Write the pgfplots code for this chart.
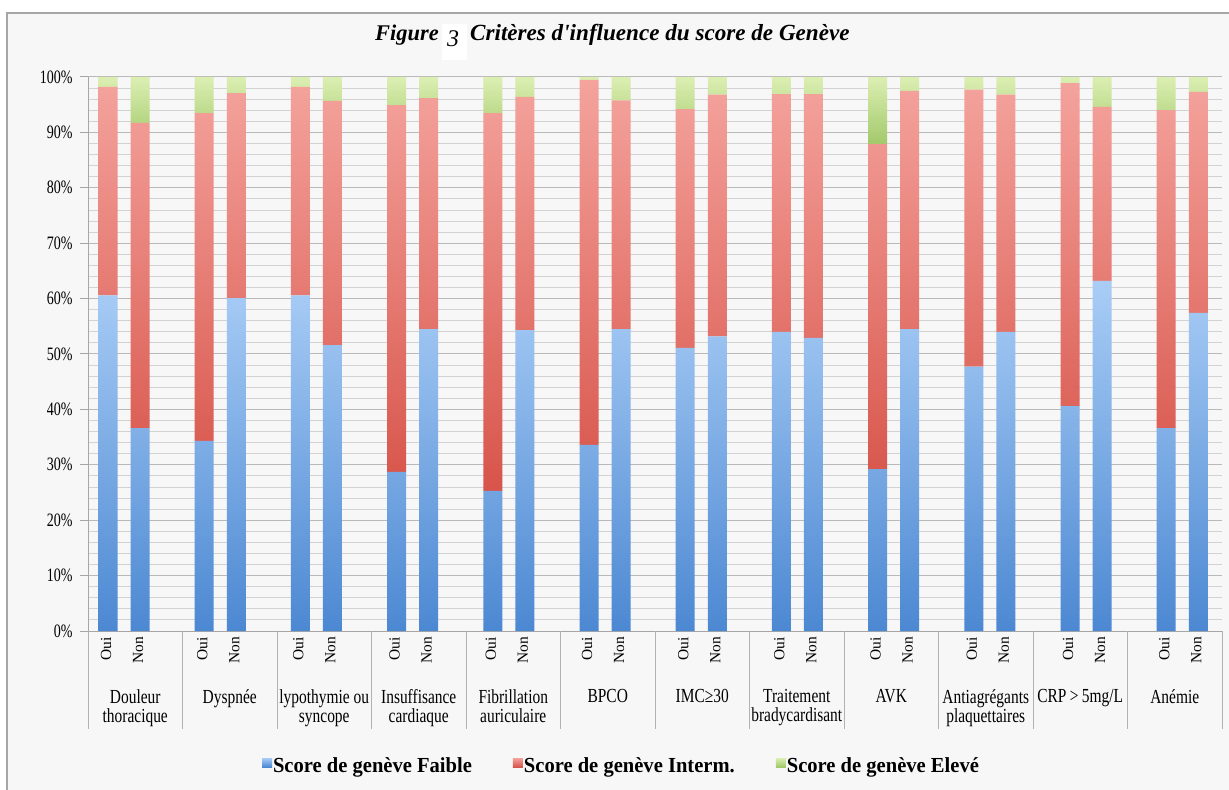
\documentclass[border=0pt]{standalone}
\usepackage{fontspec}
\setmainfont{Liberation Serif}
\newfontfamily\narrowfont{Liberation Serif}[FakeStretch=0.775]
\newfontfamily\tickfont{Liberation Serif}[FakeStretch=0.74]
\newfontfamily\legfont{Liberation Serif}[FakeStretch=0.96]
\usepackage{pgfplots}
\usepackage{pgfplotstable}
\pgfplotsset{compat=1.18}

\definecolor{bgc}{HTML}{F7F7F7}
\definecolor{framec}{HTML}{A6A6A6}
\definecolor{bluetop}{HTML}{A9CDF6}
\definecolor{bluebot}{HTML}{4C88D2}
\definecolor{redtop}{HTML}{F4A39D}
\definecolor{redbot}{HTML}{D7544A}
\definecolor{greentop}{HTML}{DCEFB3}
\definecolor{greenbot}{HTML}{A2C96A}

\tikzset{cat/.style={anchor=north, align=center, inner sep=0pt, yshift=-58bp,
    font=\narrowfont\fontsize{20}{19.5}\selectfont}}
\pgfplotsset{sqleg/.style={legend image code/.code={\path[##1] (0bp,-1bp) rectangle (10bp,8bp);}}}

% x: bar position (Oui / Non of each criterion), shares in %
\pgfplotstableread{
x      faible interm eleve
-0.288 60.6   37.6   1.8
0.051  36.6   55.1   8.3
0.730  34.3   59.2   6.5
1.069  60.1   37.0   2.9
1.748  60.6   37.6   1.8
2.087  51.6   44.1   4.3
2.766  28.7   66.2   5.1
3.105  54.5   41.7   3.8
3.784  25.3   68.2   6.5
4.123  54.3   42.1   3.6
4.802  33.6   65.9   0.5
5.141  54.5   41.3   4.2
5.820  51.1   43.1   5.8
6.159  53.2   43.6   3.2
6.838  54.0   42.9   3.1
7.177  52.9   44.0   3.1
7.856  29.2   58.7   12.1
8.195  54.5   43.0   2.5
8.874  47.7   50.0   2.3
9.213  54.0   42.8   3.2
9.892  40.6   58.3   1.1
10.231 63.2   31.4   5.4
10.910 36.6   57.4   6.0
11.249 57.4   39.9   2.7
}\scores

\begin{document}
\begin{tikzpicture}
\useasboundingbox (0,0) rectangle (1229bp,790bp);
\fill[white] (0,0) rectangle (1229bp,790bp);
\draw[framec, line width=1.5bp, fill=bgc] (7bp,-10bp) rectangle (1240bp,777bp);
% title
\fill[white] (442bp,730bp) rectangle (467bp,766bp);
\node[anchor=base west, inner sep=0pt, font=\fontsize{22.5}{24}\selectfont\bfseries\itshape]
  at (375bp,749bp) {Figure};
\node[anchor=base west, inner sep=0pt, font=\fontsize{24}{24}\selectfont\itshape]
  at (447bp,743bp) {3};
\node[anchor=base west, inner sep=0pt, font=\fontsize{23.2}{24}\selectfont\bfseries\itshape]
  at (470bp,749bp) {Critères d\textquotesingle influence du score de Genève};

\begin{axis}[
  at={(88bp,159bp)}, anchor=south west,
  scale only axis, width=1134bp, height=554bp,
  xmin=-0.5, xmax=11.5, ymin=0, ymax=100,
  ybar stacked, bar width=19bp,
  axis x line*=bottom, axis y line*=left,
  axis line style={gray!70, line width=1bp},
  ytick={0,10,...,100}, minor y tick num=4,
  yticklabel={\pgfmathprintnumber{\tick}\%},
  yticklabel style={font=\tickfont\fontsize{19}{20}\selectfont, xshift=-4bp},
  /pgf/number format/assume math mode=true,
  ymajorgrids, yminorgrids,
  major grid style={gray!55, line width=1bp},
  minor grid style={gray!35, line width=0.9bp},
  tick align=outside, major tick length=8bp, minor tick length=0bp,
  ytick style={gray!70, line width=1bp},
  xtick=data,
  xticklabels={Oui,Non,Oui,Non,Oui,Non,Oui,Non,Oui,Non,Oui,Non,
               Oui,Non,Oui,Non,Oui,Non,Oui,Non,Oui,Non,Oui,Non},
  x tick style={draw=none},
  xticklabel style={rotate=90, anchor=east, inner sep=0pt, xshift=2bp, yshift=2bp,
    font=\fontsize{15.5}{16}\selectfont},
  clip=false,
  legend style={at={(axis description cs:0.470,-0.2437)}, anchor=center,
    legend columns=3, draw=none, fill=none,
    font=\legfont\fontsize{21.5}{22}\selectfont\bfseries,
    nodes={inner sep=1bp},
    /tikz/every even column/.append style={column sep=40bp}},
]
\addplot[draw=none, top color=bluetop, bottom color=bluebot, sqleg]
  table[x=x, y=faible] {\scores};
\addplot[draw=none, top color=redtop, bottom color=redbot, sqleg]
  table[x=x, y=interm] {\scores};
\addplot[draw=none, top color=greentop, bottom color=greenbot, sqleg]
  table[x=x, y=eleve] {\scores};
\legend{Score de genève Faible, Score de genève Interm., Score de genève Elevé}

\pgfplotsinvokeforeach{0,...,12}{
  \draw[gray!60, line width=1bp] (axis cs:#1-0.5,0) -- ++(0bp,-98bp);
}
\node[cat] at (axis cs:0,0)  {Douleur\\thoracique};
\node[cat] at (axis cs:1,0)  {Dyspnée};
\node[cat] at (axis cs:2,0)  {lypothymie ou\\syncope};
\node[cat] at (axis cs:3,0)  {Insuffisance\\cardiaque};
\node[cat] at (axis cs:4,0)  {Fibrillation\\auriculaire};
\node[cat] at (axis cs:5,0)  {BPCO};
\node[cat] at (axis cs:6,0)  {IMC≥30};
\node[cat] at (axis cs:7,0)  {Traitement\\bradycardisant};
\node[cat] at (axis cs:8,0)  {AVK};
\node[cat] at (axis cs:9,0)  {Antiagrégants\\plaquettaires};
\node[cat] at (axis cs:10,0) {CRP\,>\,5mg/L};
\node[cat] at (axis cs:11,0) {Anémie};
\end{axis}
\end{tikzpicture}
\end{document}
